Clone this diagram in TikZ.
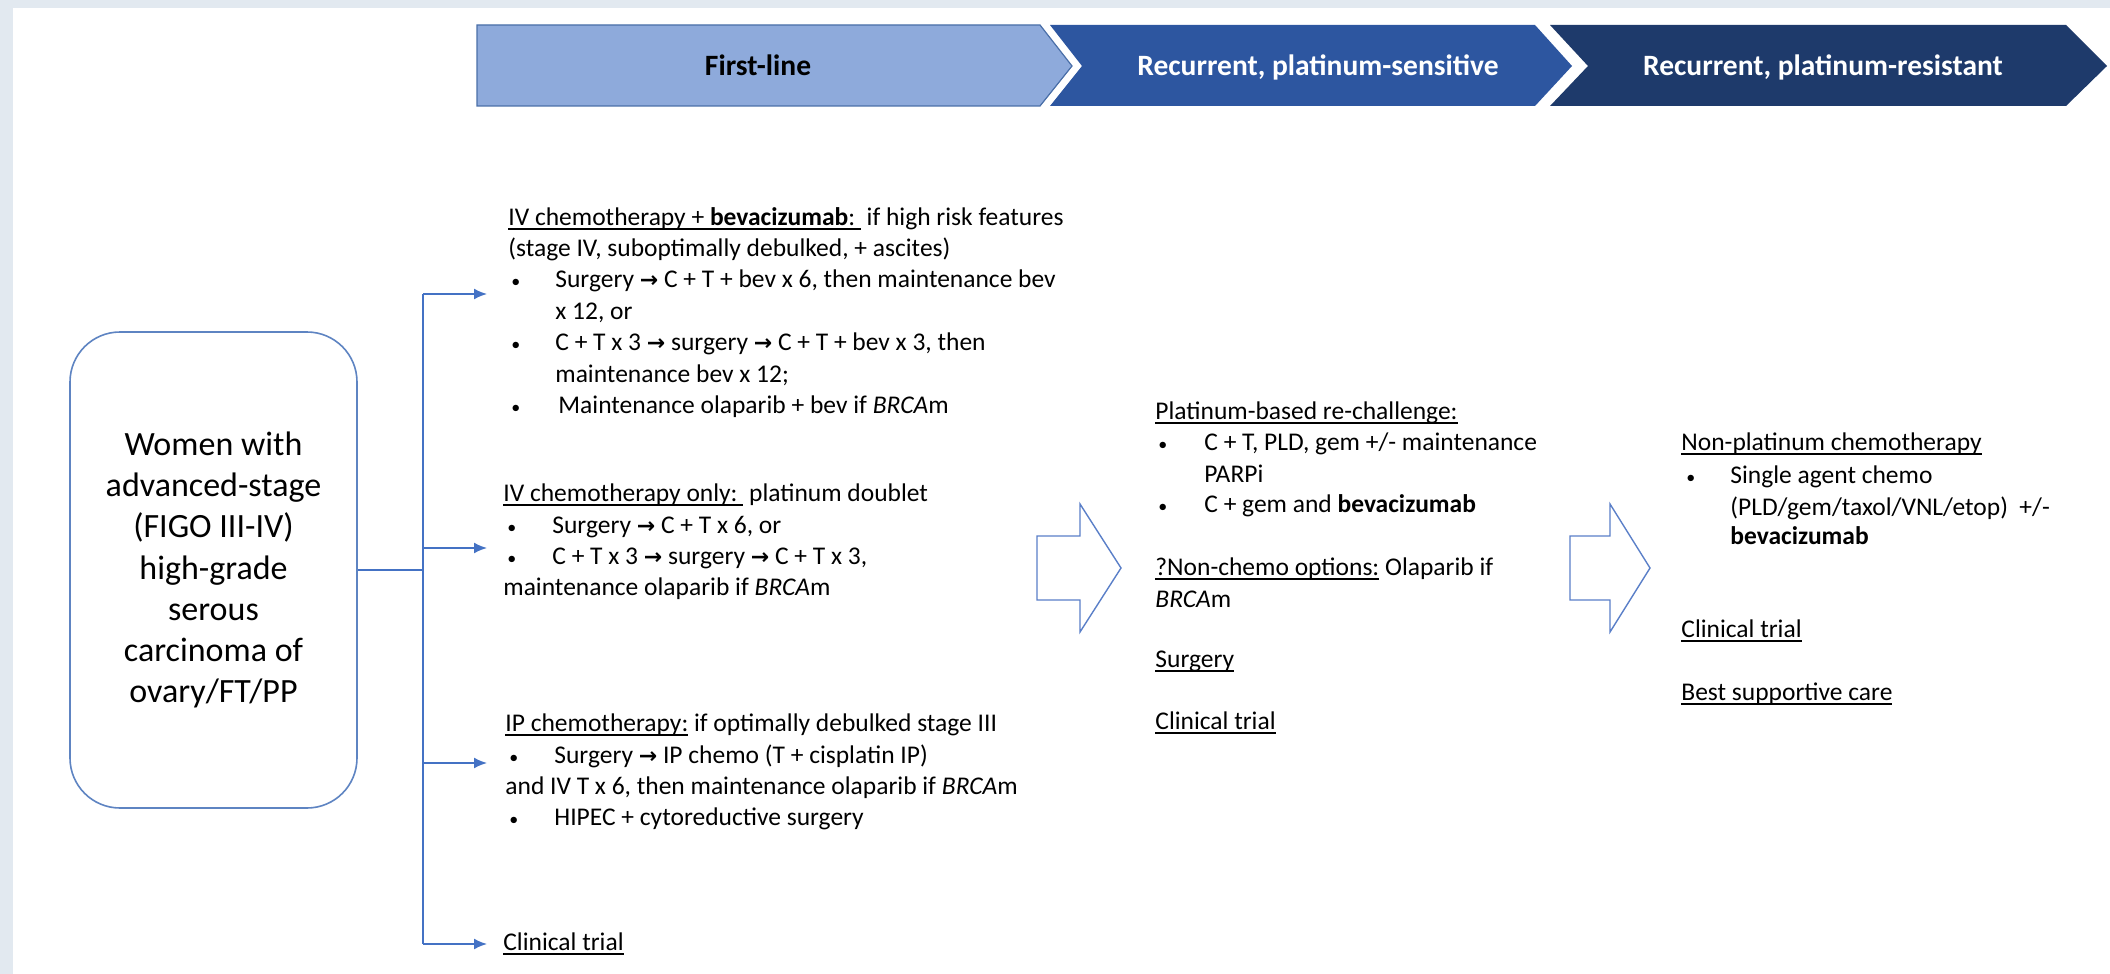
\documentclass[tikz,border=0pt]{standalone}
\usepackage{fontspec}
\setmainfont{Carlito}
\newfontfamily\arrowfont{DejaVu Sans}
\usetikzlibrary{arrows.meta}
\definecolor{framecol}{HTML}{E2E9F0}
\definecolor{lineblue}{HTML}{4472C4}
\definecolor{chevA}{HTML}{8EAADB}
\definecolor{chevAborder}{HTML}{4A6FA8}
\definecolor{chevB}{HTML}{2D56A0}
\definecolor{chevC}{HTML}{1E3A6B}
\definecolor{boxborder}{HTML}{5E84C2}
\definecolor{hollow}{HTML}{5A7FC8}
\newsavebox\ulbox
\newcommand\ul[1]{\sbox\ulbox{#1}\rlap{\rule[-2.6pt]{\wd\ulbox}{0.9pt}}\usebox\ulbox}
\newcommand\myarrow{{\arrowfont\bfseries\fontsize{11pt}{12pt}\selectfont →}}
\newcommand\bul[1]{\makebox[#1][l]{\fontsize{9pt}{9pt}\selectfont •}}
\begin{document}
\begin{tikzpicture}[x=0.5pt,y=-0.5pt,
  txt/.style={anchor=base west, inner sep=0pt, font=\fontsize{12.75pt}{15.7pt}\selectfont},
  hdr/.style={anchor=base, inner sep=0pt, font=\fontsize{14.75pt}{16pt}\selectfont\bfseries},
  ptbox/.style={draw=boxborder, line width=0.8pt, rounded corners=25pt, minimum width=143.5pt, minimum height=238pt, align=center, inner sep=0pt, font=\fontsize{17pt}{20.65pt}\selectfont},
  conn/.style={draw=lineblue, line width=0.9pt},
  tip/.style={-{Latex[length=6.5pt,width=5.5pt]}},
  hollowarrow/.style={draw=hollow, line width=0.7pt, fill=white}]
\useasboundingbox (0,0) rectangle (2110,974);
\fill[framecol] (0,0) rectangle (2110,974);
\fill[white] (13,8) rectangle (2110,974);

% header chevrons
\filldraw[fill=chevA, draw=chevAborder, line width=0.6pt] (477,25) -- (1040,25) -- (1072,66) -- (1040,106) -- (477,106) -- cycle;
\fill[chevB] (1050,25) -- (1535,25) -- (1572,66) -- (1535,106) -- (1050,106) -- (1082,66) -- cycle;
\fill[chevC] (1550,25) -- (2066,25) -- (2107,66) -- (2066,106) -- (1550,106) -- (1588,66) -- cycle;
\node[hdr, text=black] (h1) at (758,76) {First-line};
\node[hdr, text=white] (h2) at (1318,76) {Recurrent, platinum-sensitive};
\node[hdr, text=white] (h3) at (1823,76) {Recurrent, platinum-resistant};

% patient box
\node[ptbox] (pt) at (213.5,570) {Women with\\advanced-stage\\(FIGO III-IV)\\high-grade\\serous\\carcinoma of\\ovary/FT/PP};

% connectors
\coordinate (j) at (423,570);
\coordinate (jt) at (423,294);
\coordinate (j2) at (423,548);
\coordinate (j3) at (423,763);
\coordinate (jb) at (423,944);
\coordinate (e1) at (487,294);
\coordinate (e2) at (487,548);
\coordinate (e3) at (487,763);
\coordinate (e4) at (487,944);
\draw[conn] (pt.east) -- (j);
\draw[conn] (jt) -- (jb);
\draw[conn,tip] (jt) -- (e1);
\draw[conn,tip] (j2) -- (e2);
\draw[conn,tip] (j3) -- (e3);
\draw[conn,tip] (jb) -- (e4);

% first-line block 1
\node[txt] (a1) at (508,225) {\ul{IV chemotherapy + \textbf{bevacizumab}:\ }\ if high risk features};
\node[txt] (a2) at (508,256.4) {(stage IV, suboptimally debulked, + ascites)};
\node[txt] (a3) at (511,287.8) {\bul{22pt}Surgery \myarrow\ C + T + bev x 6, then maintenance bev};
\node[txt] (a4) at (555,319.2) {x 12, or};
\node[txt] (a5) at (511,350.6) {\bul{22pt}C + T x 3 \myarrow\ surgery \myarrow\ C + T + bev x 3, then};
\node[txt] (a6) at (555,382) {maintenance bev x 12;};
\node[txt] (a7) at (511,413.4) {\bul{23.5pt}Maintenance olaparib + bev if \textit{BRCA}m};

% first-line block 2
\node[txt] (b1) at (503,501) {\ul{IV chemotherapy only:\ }\ platinum doublet};
\node[txt] (b2) at (507,533) {\bul{22.5pt}Surgery \myarrow\ C + T x 6, or};
\node[txt] (b3) at (507,564) {\bul{22.5pt}C + T x 3 \myarrow\ surgery \myarrow\ C + T x 3,};
\node[txt] (b4) at (503,595) {maintenance olaparib if \textit{BRCA}m};

% first-line block 3
\node[txt] (c1) at (505,731) {\ul{IP chemotherapy:} if optimally debulked stage III};
\node[txt] (c2) at (509,763) {\bul{22.5pt}Surgery \myarrow\ IP chemo (T + cisplatin IP)};
\node[txt] (c3) at (505,794) {and IV T x 6, then maintenance olaparib if \textit{BRCA}m};
\node[txt] (c4) at (509,825) {\bul{22.5pt}HIPEC + cytoreductive surgery};

\node[txt] (d1) at (503,950) {\ul{Clinical trial}};

% hollow arrows
\filldraw[hollowarrow] (1037,536) -- (1080,536) -- (1080,504) -- (1121,568) -- (1080,632) -- (1080,600) -- (1037,600) -- cycle;
\filldraw[hollowarrow] (1570,536) -- (1610,536) -- (1610,504) -- (1650,568) -- (1610,632) -- (1610,600) -- (1570,600) -- cycle;

% platinum-sensitive block
\node[txt] (m1) at (1155,419) {\ul{Platinum-based re-challenge:}};
\node[txt] (m2) at (1158,450) {\bul{23pt}C + T, PLD, gem +/- maintenance};
\node[txt] (m3) at (1204,482) {PARPi};
\node[txt] (m4) at (1158,512) {\bul{23pt}C + gem and \textbf{bevacizumab}};
\node[txt] (m5) at (1155,575) {\ul{?Non-chemo options:} Olaparib if};
\node[txt] (m6) at (1155,607) {\textit{BRCA}m};
\node[txt] (m7) at (1155,667) {\ul{Surgery}};
\node[txt] (m8) at (1155,729) {\ul{Clinical trial}};

% platinum-resistant block
\node[txt] (r1) at (1681,450) {\ul{Non-platinum chemotherapy}};
\node[txt] (r2) at (1686,483) {\bul{22pt}Single agent chemo};
\node[txt] (r3) at (1730,515) {(PLD/gem/taxol/VNL/etop)\ \ +/-};
\node[txt] (r4) at (1730,544) {\textbf{bevacizumab}};
\node[txt] (r5) at (1681,637) {\ul{Clinical trial}};
\node[txt] (r6) at (1681,700) {\ul{Best supportive care}};
\end{tikzpicture}
\end{document}
